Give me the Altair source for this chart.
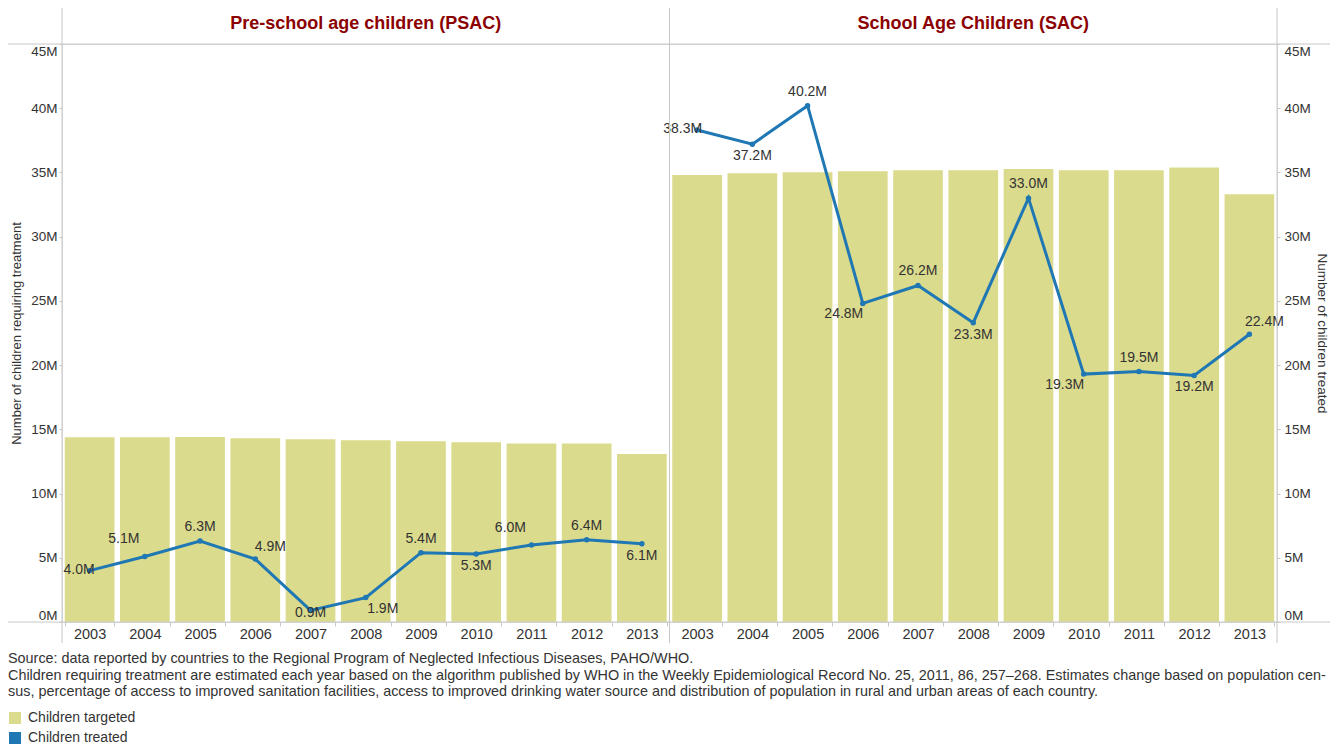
import altair as alt
import pandas as pd

# ---------------- data ----------------
years = [str(y) for y in range(2003, 2014)]
psac_targeted = [14.38, 14.38, 14.40, 14.30, 14.23, 14.15, 14.07, 14.00, 13.90, 13.90, 13.08]
psac_treated = [4.0, 5.1, 6.3, 4.9, 0.9, 1.9, 5.4, 5.3, 6.0, 6.4, 6.1]
sac_targeted = [34.80, 34.94, 35.02, 35.10, 35.18, 35.18, 35.26, 35.18, 35.18, 35.39, 33.30]
sac_treated = [38.3, 37.2, 40.2, 24.8, 26.2, 23.3, 33.0, 19.3, 19.5, 19.2, 22.4]
panel_titles = ["Pre-school age children (PSAC)", "School Age Children (SAC)"]
panel_codes = ["P", "S"]
y_ticks = [0, 5, 10, 15, 20, 25, 30, 35, 40, 45]
legend_labels = ["Children targeted", "Children treated"]
y_left_title = "Number of children requiring treatment"
y_right_title = "Number of children treated"
footer_lines = [
    "Source: data reported by countries to the Regional Program of Neglected Infectious Diseases, PAHO/WHO.",
    "Children requiring treatment are estimated each year based on the algorithm published by WHO in the Weekly Epidemiological Record No. 25, 2011, 86, 257\u2013268. Estimates change based on population cen-",
    "sus, percentage of access to improved sanitation facilities, access to improved drinking water source and distribution of population in rural and urban areas of each country.",
]
# where each value label sits relative to its point
psac_label_place = ["left", "above-left", "above", "above-right", "center", "below-right",
                    "above", "below", "above-left", "above", "below"]
sac_label_place = ["left", "below", "above", "below-left", "above", "below",
                   "above", "below-left", "above", "below", "above-right"]

# ---------------- styling ----------------
W, H = 1215, 578
BAR_C = "#dbdb8d"
LINE_C = "#1f77b4"
FRAME_C = "#c8c8c8"
TEXT_C = "#333333"
TITLE_C = "#8b0000"
FONT = "Liberation Sans"

place_offsets = {
    "above": (0, -14, "center"),
    "below": (0, 12, "center"),
    "above-left": (-21, -17, "center"),
    "above-right": (15, -12, "center"),
    "below-left": (-19, 11, "center"),
    "below-right": (17, 11, "center"),
    "left": (5, -1, "right"),
    "center": (0, 3, "center"),
}

rows = []
for code, tgt, trt, places in [
    ("P", psac_targeted, psac_treated, psac_label_place),
    ("S", sac_targeted, sac_treated, sac_label_place),
]:
    for yr, a, b, p in zip(years, tgt, trt, places):
        rows.append({
            "panel": code,
            "key": code + yr,
            "targeted": a,
            "treated": b,
            "label": f"{b:.1f}M",
            "place": p,
            "series": legend_labels[0],
        })
df = pd.DataFrame(rows)
keys = list(df["key"])

xscale = alt.Scale(domain=keys, paddingInner=0.1, paddingOuter=0.05)
yscale = alt.Scale(domain=[0, 45], nice=False, zero=True)
x_axis = alt.Axis(labelExpr="substring(datum.label, 1)", tickBand="extent",
                  tickSize=4, tickColor=FRAME_C, domain=False, labelAngle=0,
                  labelFontSize=14.5, labelColor=TEXT_C, labelPadding=1,
                  labelFont=FONT, title=None)


def xenc():
    return alt.X("key:N", scale=xscale, axis=x_axis)


base = alt.Chart(df)

bars = base.mark_bar(stroke=None).encode(
    x=xenc(),
    y=alt.Y("targeted:Q", scale=yscale,
            axis=alt.Axis(orient="left", title=y_left_title, values=y_ticks,
                          labelExpr="datum.value + 'M'", labelFlush=True, grid=False,
                          domain=False, tickSize=3, tickColor=FRAME_C, labelPadding=2,
                          labelFontSize=13.5, labelColor=TEXT_C, labelFont=FONT,
                          titleFontSize=13, titleFontWeight="normal", titleColor=TEXT_C,
                          titleFont=FONT, titlePadding=7)),
    color=alt.Color("series:N",
                    scale=alt.Scale(domain=legend_labels, range=[BAR_C, LINE_C]),
                    legend=alt.Legend(orient="none", legendX=-54, legendY=H + 89,
                                      direction="vertical", title=None,
                                      symbolType="square", symbolSize=144,
                                      symbolStrokeWidth=0, labelFontSize=14,
                                      labelColor=TEXT_C, labelFont=FONT,
                                      rowPadding=6, labelOffset=6, padding=0)),
)

line = base.mark_line(color=LINE_C, strokeWidth=3,
                      point=alt.OverlayMarkDef(filled=True, size=30, color=LINE_C)).encode(
    x=xenc(),
    y=alt.Y("treated:Q", scale=yscale,
            axis=alt.Axis(orient="right", title=y_right_title, values=y_ticks,
                          labelExpr="datum.value + 'M'", labelFlush=True, grid=False,
                          domain=False, tickSize=3, tickColor=FRAME_C, labelPadding=4,
                          labelFontSize=13.5, labelColor=TEXT_C, labelFont=FONT,
                          titleFontSize=13.5, titleFontWeight="normal", titleColor=TEXT_C,
                          titleFont=FONT, titlePadding=4)),
    detail="panel:N",
)

label_layers = []
for p, (dx, dy, al) in place_offsets.items():
    label_layers.append(
        base.transform_filter(alt.datum.place == p)
        .mark_text(dx=dx, dy=dy, align=al, baseline="middle", fontSize=14,
                   color=TEXT_C, font=FONT)
        .encode(x=xenc(),
                y=alt.Y("treated:Q", scale=yscale, axis=None),
                text="label:N")
    )

mid_year = years[len(years) // 2]
titles_df = pd.DataFrame({"key": [c + mid_year for c in panel_codes], "title": panel_titles})
titles = alt.Chart(titles_df).mark_text(fontSize=18, fontWeight="bold", color=TITLE_C,
                                        font=FONT, baseline="middle").encode(
    x=xenc(),
    y=alt.value(-20),
    text="title:N",
)

one = pd.DataFrame({"a": [0]})
frame = []
for xv in [0, W / 2, W]:
    frame.append(alt.Chart(one).mark_rule(color=FRAME_C, strokeWidth=1).encode(
        x=alt.value(xv), y=alt.value(-41), y2=alt.value(H + 21)))
for yv in [0, H]:
    frame.append(alt.Chart(one).mark_rule(color=FRAME_C, strokeWidth=1).encode(
        y=alt.value(yv), x=alt.value(-54), x2=alt.value(W + 61)))

footer = []
for i, txt in enumerate(footer_lines):
    footer.append(alt.Chart(one).mark_text(align="left", baseline="middle", fontSize=14.4,
                                           color=TEXT_C, font=FONT).encode(
        x=alt.value(-54), y=alt.value(H + 37 + 16.5 * i), text=alt.value(txt)))

chart = alt.layer(bars, line, *label_layers, titles, *frame, *footer).resolve_scale(
    y="independent"
).properties(
    width=W, height=H,
    autosize=alt.AutoSizeParams(type="none"),
    padding={"left": 54, "top": 36, "right": 53, "bottom": 124},
).configure_view(stroke=None).configure(font=FONT)

chart.save("out.html", embed_options={"renderer": "svg", "actions": False})
